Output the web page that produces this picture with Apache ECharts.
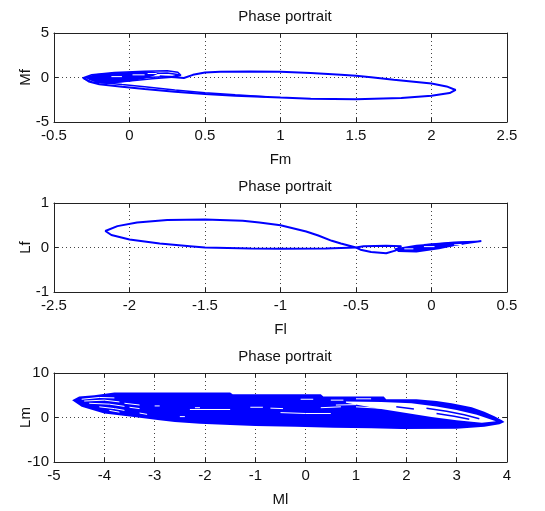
<!DOCTYPE html>
<html>
<head>
<meta charset="utf-8">
<script src="https://cdn.jsdelivr.net/npm/echarts@6/dist/echarts.min.js"></script>
<style>html,body{margin:0;padding:0;background:#fff;}#c{width:545px;height:511px;}</style>
</head>
<body>
<div id="c"></div>
<script>
// ---------- Data ----------
var titles = ['Phase portrait', 'Phase portrait', 'Phase portrait'];
var xNames = ['Fm', 'Fl', 'Ml'];
var yNames = ['Mf', 'Lf', 'Lm'];
var xRanges = [[-0.5, 2.5, 0.5], [-2.5, 0.5, 0.5], [-5, 4, 1]];
var yRanges = [[-5, 5, 5], [-1, 1, 1], [-10, 10, 10]];

// Plot 1: Fm vs Mf
var fmMfMain = [[0.2,0.15],[0.3,0.02],[0.36,-0.05],[0.42,0.3],[0.5,0.55],[0.6,0.65],[0.8,0.68],[1.0,0.64],[1.2,0.5],[1.4,0.3],[1.5,0.19],[1.6,0.02],[1.75,-0.25],[1.9,-0.5],[2.0,-0.68],[2.1,-1.0],[2.16,-1.4],[2.12,-1.75],[2.0,-2.05],[1.8,-2.3],[1.5,-2.45],[1.2,-2.38],[1.0,-2.26],[0.7,-2.05],[0.5,-1.85],[0.3,-1.6],[0.1,-1.3],[-0.05,-1.05],[-0.2,-0.75],[-0.27,-0.45],[-0.3,-0.1],[-0.22,0.2]];
var fmMfLower2 = [[-0.22,-0.5],[-0.05,-0.8],[0.1,-1.05],[0.3,-1.4],[0.5,-1.7],[0.7,-1.95],[0.9,-2.15]];
var fmMfLoopA = [[-0.31,-0.05],[-0.25,0.3],[-0.1,0.55],[0.1,0.7],[0.25,0.75],[0.32,0.6],[0.34,0.25],[0.3,0.05],[0.15,-0.15],[0.0,-0.4],[-0.15,-0.65],[-0.25,-0.5],[-0.31,-0.05]];
var fmMfLoopB = [[-0.28,0.0],[-0.15,0.25],[0.05,0.4],[0.25,0.5],[0.33,0.3],[0.28,0.1],[0.1,0.0],[-0.1,-0.25],[-0.25,-0.25],[-0.28,0.0]];
var fmMfBlob = [[-0.29,0.05],[-0.22,0.4],[-0.1,0.55],[0.05,0.65],[0.15,0.68],[0.2,0.5],[0.16,0.2],[0.1,-0.15],[0.0,-0.45],[-0.12,-0.65],[-0.22,-0.55],[-0.27,-0.25]];
var fmMfWhite = [[[0.02,0.3],[0.1,0.3]], [[-0.12,0.1],[-0.05,0.1]], [[0.12,0.45],[0.18,0.45]]];

// Plot 2: Fl vs Lf
var flLfMain = [[-0.5,0.0],[-0.6,0.09],[-0.66,0.15],[-0.75,0.27],[-0.83,0.36],[-1.0,0.5],[-1.14,0.56],[-1.25,0.6],[-1.5,0.63],[-1.75,0.62],[-1.95,0.56],[-2.08,0.48],[-2.16,0.37],[-2.12,0.28],[-2.0,0.18],[-1.8,0.09],[-1.6,0.03],[-1.5,0.0],[-1.2,-0.02],[-1.0,-0.03],[-0.7,-0.02],[-0.5,0.0]];
var flLfLoop = [[-0.5,0.0],[-0.45,0.03],[-0.3,0.04],[-0.2,0.03],[-0.24,-0.07],[-0.3,-0.13],[-0.4,-0.1],[-0.47,-0.05],[-0.5,0.0]];
var flLfBlob = [[-0.25,-0.02],[-0.1,0.06],[0.1,0.11],[0.25,0.14],[0.33,0.15],[0.2,0.07],[0.05,-0.04],[-0.1,-0.11],[-0.22,-0.1]];
var flLfTail = [[-0.22,-0.08],[0.0,-0.02],[0.2,0.08],[0.33,0.14],[0.15,0.12],[-0.05,0.06]];
var flLfWhite = [[[-0.05,0.02],[0.02,0.02]], [[0.15,0.06],[0.2,0.07]], [[-0.18,-0.03],[-0.12,-0.03]]];

// Plot 3: Ml vs Lm
var mlLmOuter = [[-4.64,3.9],[-4.5,4.7],[-4.2,5.0],[-3.8,5.6],[-1.5,5.6],[-1.45,5.2],[0.3,5.2],[0.35,4.7],[1.55,4.7],[1.6,4.1],[2.2,4.1],[2.6,3.7],[2.9,3.2],[3.3,2.3],[3.55,1.3],[3.75,0.3],[3.9,-0.6],[3.95,-1.0],[3.85,-1.5],[3.55,-2.1],[3.0,-2.5],[1.9,-2.6],[1.3,-2.4],[0.55,-2.3],[-0.2,-2.1],[-1.0,-1.9],[-1.5,-1.7],[-2.1,-1.4],[-2.6,-1.0],[-2.9,-0.6],[-3.45,0.15],[-4.0,0.9],[-4.45,2.4]];
var mlLmGap = [[0.8,3.6],[1.5,3.5],[2.1,3.2],[2.6,2.5],[3.0,1.7],[3.4,0.6],[3.78,-0.85],[3.5,-1.2],[3.0,-0.6],[2.5,0.1],[2.0,1.0],[1.5,1.9],[1.1,2.7],[0.8,3.3]];
var mlLmGapLines = [
  [[2.4,2.1],[2.8,1.4],[3.15,0.6],[3.45,-0.3]],
  [[2.6,0.9],[2.95,0.3],[3.25,-0.4]],
  [[1.8,2.4],[2.15,1.9]]
];
var mlLmWhite = [
  [[-4.45,4.1],[-4.1,4.5],[-3.8,4.4]],
  [[-4.4,3.7],[-4.0,3.9],[-3.7,3.5]],
  [[-3.6,3.2],[-3.3,2.8]],
  [[-4.3,3.2],[-3.9,3.0],[-3.6,2.5]],
  [[-3.5,2.3],[-3.3,2.0]],
  [[-4.1,2.4],[-3.8,2.0],[-3.6,1.6]],
  [[-3.9,1.6],[-3.7,1.2]],
  [[-3.3,1.0],[-3.15,0.7]],
  [[-3.0,2.6],[-2.9,2.6]],
  [[-2.3,1.8],[-1.5,1.8]],
  [[-1.1,2.3],[-0.85,2.3]],
  [[-0.7,2.1],[-0.45,2.0]],
  [[-0.5,1.1],[0.0,0.9],[0.5,0.9]],
  [[-0.1,4.1],[0.15,4.1]],
  [[0.5,3.9],[0.75,3.9]],
  [[1.0,2.4],[1.6,2.0]],
  [[0.6,2.8],[1.0,2.9]],
  [[0.3,2.2],[0.7,2.4]],
  [[1.0,4.2],[1.3,4.2]],
  [[-2.5,0.2],[-2.4,0.2]],
  [[-2.2,2.2],[-2.1,2.2]]
];

// ---------- Chart ----------
var BLUE = '#0000ff';
var FONT = '"Liberation Sans", Arial, sans-serif';
var FS = 15;
var tops = [33, 203, 373];
var grids = [], xAxes = [], yAxes = [], titleOpts = [], series = [];

tops.forEach(function (t, g) {
  grids.push({left: 54, width: 453, top: t, height: 89, containLabel: false, outerBoundsMode: 'none'});
  titleOpts.push({text: titles[g], left: 280, textAlign: 'center', top: t - 29,
    textStyle: {fontFamily: FONT, fontSize: 15, fontWeight: 'normal', color: '#111'}});
  var xr = xRanges[g], yr = yRanges[g];
  xAxes.push({type: 'value', gridIndex: g, position: 'bottom', min: xr[0], max: xr[1], interval: xr[2],
    name: xNames[g], nameLocation: 'middle', nameGap: 30, nameMoveOverlap: false,
    nameTextStyle: {fontFamily: FONT, fontSize: FS, color: '#111'},
    axisLine: {show: true, onZero: false, lineStyle: {color: '#222'}},
    axisTick: {show: true, inside: true, length: 4, lineStyle: {color: '#222'}},
    axisLabel: {fontFamily: FONT, fontSize: FS, color: '#111', margin: 6, showMinLabel: true, showMaxLabel: true},
    splitLine: {show: true, lineStyle: {color: '#444', type: [1, 3], width: 1}}});
  xAxes.push({type: 'value', gridIndex: g, position: 'top', min: xr[0], max: xr[1], interval: xr[2],
    axisLine: {show: true, onZero: false, lineStyle: {color: '#222'}},
    axisTick: {show: true, inside: true, length: 4, lineStyle: {color: '#222'}},
    axisLabel: {show: false}, splitLine: {show: false}});
  yAxes.push({type: 'value', gridIndex: g, position: 'left', min: yr[0], max: yr[1], interval: yr[2],
    name: yNames[g], nameLocation: 'middle', nameGap: 21, nameRotate: 90, nameMoveOverlap: false,
    nameTextStyle: {fontFamily: FONT, fontSize: FS, color: '#111'},
    axisLine: {show: true, onZero: false, lineStyle: {color: '#222'}},
    axisTick: {show: true, inside: true, length: 4, lineStyle: {color: '#222'}},
    axisLabel: {fontFamily: FONT, fontSize: FS, color: '#111', margin: 5, showMinLabel: true, showMaxLabel: true},
    splitLine: {show: true, lineStyle: {color: '#444', type: [1, 3], width: 1}}});
  yAxes.push({type: 'value', gridIndex: g, position: 'right', min: yr[0], max: yr[1], interval: yr[2],
    axisLine: {show: true, onZero: false, lineStyle: {color: '#222'}},
    axisTick: {show: true, inside: true, length: 4, lineStyle: {color: '#222'}},
    axisLabel: {show: false}, splitLine: {show: false}});
});

function lineS(g, pts, color, w) {
  return {type: 'line', xAxisIndex: 2 * g, yAxisIndex: 2 * g, data: pts, showSymbol: false, symbol: 'none',
    silent: true, animation: false, lineStyle: {color: color, width: w}, z: 3};
}
function polyS(g, pts, color) {
  return {type: 'custom', xAxisIndex: 2 * g, yAxisIndex: 2 * g, data: pts, silent: true, animation: false, z: 2,
    renderItem: function (params, api) {
      if (params.dataIndex !== 0) return null;
      return {type: 'polygon', shape: {points: pts.map(function (p) { return api.coord(p); })},
        style: {fill: color}};
    }};
}
function addLines(g, list, color, w, z) {
  list.forEach(function (p) { var s = lineS(g, p, color, w); s.z = z; series.push(s); });
}

// plot 1
series.push(polyS(0, fmMfBlob, BLUE));
series.push(lineS(0, fmMfMain, BLUE, 2));
series.push(lineS(0, fmMfLower2, BLUE, 1.5));
series.push(lineS(0, fmMfLoopA, BLUE, 1.5));
series.push(lineS(0, fmMfLoopB, BLUE, 1.5));
addLines(0, fmMfWhite, '#ffffff', 1, 4);
// plot 2
series.push(polyS(1, flLfBlob, BLUE));
series.push(lineS(1, flLfMain, BLUE, 2));
series.push(lineS(1, flLfLoop, BLUE, 2));
series.push(lineS(1, flLfTail, BLUE, 1.5));
addLines(1, flLfWhite, '#ffffff', 1, 4);
// plot 3
series.push(polyS(2, mlLmOuter, BLUE));
var gapS = polyS(2, mlLmGap, '#ffffff'); gapS.z = 3; series.push(gapS);
addLines(2, mlLmGapLines, BLUE, 1.5, 4);
addLines(2, mlLmWhite, '#ffffff', 1, 4);

var chart = echarts.init(document.getElementById('c'), null, {renderer: 'canvas'});
chart.setOption({animation: false, backgroundColor: '#fff', title: titleOpts, grid: grids,
  xAxis: xAxes, yAxis: yAxes, series: series});
</script>
</body>
</html>
